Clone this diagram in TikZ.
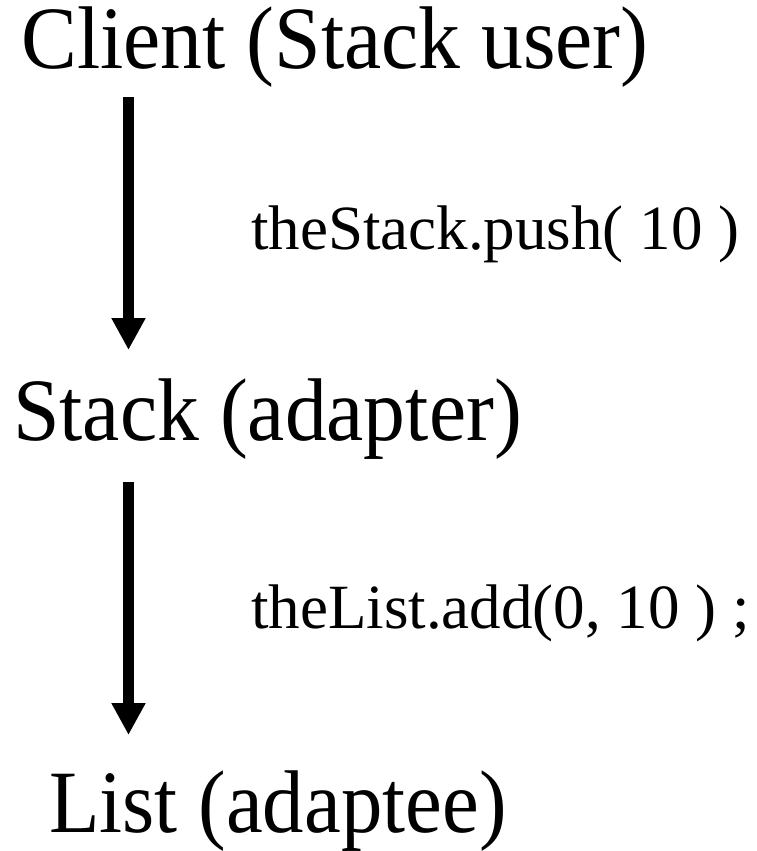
\documentclass[tikz,border=0pt]{standalone}
\usepackage{fontspec}
\setmainfont{Liberation Serif}
\usetikzlibrary{arrows.meta}
\begin{document}
\begin{tikzpicture}[x=1pt,y=-1pt,
  big/.style={font=\fontsize{89}{89}\selectfont, inner sep=0pt, anchor=base west},
  small/.style={font=\fontsize{63}{63}\selectfont, inner sep=0pt, anchor=base west},
  flow/.style={line width=11pt, -{Triangle[width=32pt,length=32pt]}}]
\useasboundingbox (0,0) rectangle (757,851);
\node[big] (client) at (21,69) {\scalebox{0.94}[1]{Client (Stack user)}};
\node[small] (push) at (251,249) {theStack.push( 10 )};
\node[big] (stack) at (13,440) {\scalebox{0.94}[1]{Stack (adapter)}};
\node[small] (add) at (251,628) {theList.add(0, 10 ) ;};
\node[big] (list) at (49,832) {\scalebox{0.93}[1]{List (adaptee)}};
\coordinate (a1s) at (128.5,97);
\coordinate (a1e) at (128.5,350);
\coordinate (a2s) at (128.5,482);
\coordinate (a2e) at (128.5,735);
\draw[flow] (a1s) -- (a1e);
\draw[flow] (a2s) -- (a2e);
\end{tikzpicture}
\end{document}
